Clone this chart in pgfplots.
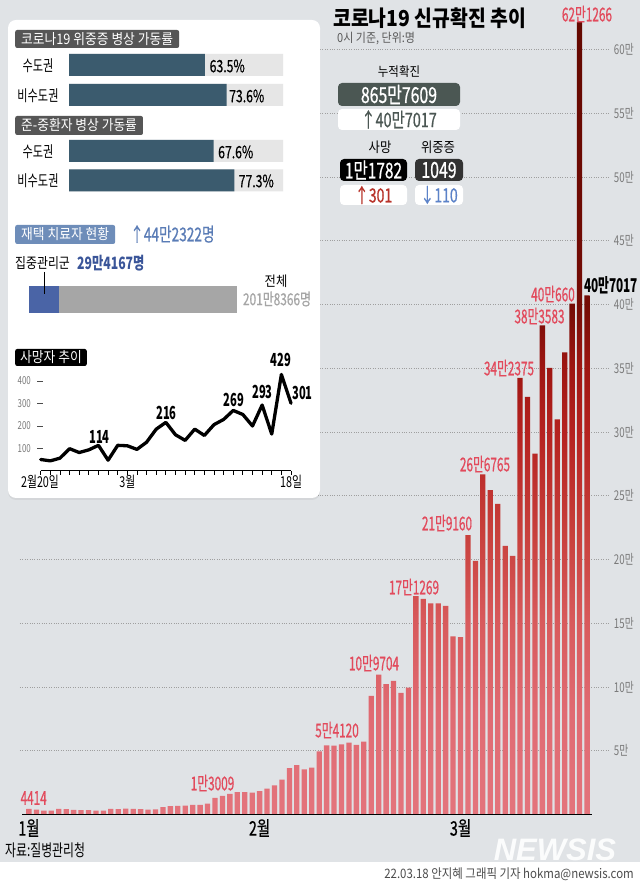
\documentclass[border=0pt]{standalone}
\usepackage{pgfplots}
\pgfplotsset{compat=1.18}
\usepackage{pgfplotstable}
\usepackage{fontspec}
\usetikzlibrary{shadows}
\setmainfont{Noto Sans CJK KR}[FakeStretch=0.88]
\newfontfamily\condA{Noto Sans CJK KR}[FakeStretch=0.62]
\newfontfamily\condAm{Noto Sans CJK KR}[FakeStretch=0.62, FakeBold=0.6]
\newfontfamily\condB{Noto Sans CJK KR}[FakeStretch=0.72]
\newfontfamily\condBm{Noto Sans CJK KR}[FakeStretch=0.72, FakeBold=0.6]
\newfontfamily\condC{Noto Sans CJK KR}[FakeStretch=0.82]
\newfontfamily\logofont{Liberation Sans}
\newcommand\fs[1]{\fontsize{#1bp}{#1bp}\selectfont}

\definecolor{bg}{HTML}{E0E3E6}
\definecolor{pinklab}{HTML}{E24A5C}
\definecolor{tealbar}{HTML}{3B5B6E}
\definecolor{barbg}{HTML}{E6E6E6}
\definecolor{hdr}{HTML}{565656}
\definecolor{bluebox}{HTML}{6E8DB9}
\definecolor{bluetxt}{HTML}{5A7CB6}
\definecolor{darkblue}{HTML}{3A5599}
\definecolor{graybar}{HTML}{A6A6A6}
\definecolor{bluebar}{HTML}{4A64A6}
\definecolor{box1}{HTML}{4B5753}
\definecolor{redtxt}{HTML}{B8332A}
\definecolor{bluearrow}{HTML}{5B82C8}
\definecolor{tickgray}{HTML}{7A7A7A}
\definecolor{b0}{HTML}{E3747C}
\definecolor{b1}{HTML}{E06A72}
\definecolor{b2}{HTML}{D85A5C}
\definecolor{b3}{HTML}{C8403C}
\definecolor{b4}{HTML}{B52220}
\definecolor{b5}{HTML}{9E1612}
\definecolor{b6}{HTML}{740C06}
\definecolor{b7}{HTML}{640800}

\pgfdeclareverticalshading{barshade}{100bp}{color(0bp)=(b0); color(25bp)=(b0); color(31.4bp)=(b1); color(37.1bp)=(b2); color(42.7bp)=(b3); color(49.1bp)=(b4); color(53.2bp)=(b5); color(57.2bp)=(b6); color(75bp)=(b7); color(100bp)=(b7)}

\pgfplotstableread{
i v
0 4414
1 3832
2 3129
3 3022
4 4443
5 4126
6 3714
7 3511
8 3376
9 3005
10 3094
11 4385
12 4167
13 4542
14 4422
15 4194
16 3857
17 4071
18 5805
19 6603
20 6769
21 7009
22 7630
23 7513
24 8571
25 13009
26 14518
27 16096
28 17542
29 17528
30 17079
31 18342
32 20270
33 22907
34 27443
35 36362
36 38691
37 35286
38 36719
39 49567
40 54120
41 53926
42 54941
43 56431
44 54619
45 57177
46 93000
47 109704
48 102211
49 104829
50 95362
51 99573
52 171269
53 169000
54 165600
55 165600
56 163566
57 139626
58 138993
59 219160
60 198803
61 266765
62 254327
63 243628
64 210716
65 202721
66 342375
67 327549
68 282987
69 383583
70 350190
71 309790
72 362338
73 400660
74 621266
75 407017
}\bars

\pgfplotstableread{
d v
0 51
1 45
2 57
3 99
4 82
5 94
6 114
7 48
8 114
9 112
10 96
11 128
12 186
13 216
14 161
15 136
16 186
17 158
18 206
19 229
20 269
21 251
22 200
23 293
24 164
25 429
26 301
}\deaths

\pgfplotsset{fullframe/.style={at={(0bp,0bp)}, anchor=south west, scale only axis,
  width=640bp, height=882bp, hide axis, clip=false}}

\begin{document}
\begin{tikzpicture}[x=1bp,y=1bp]
% background
\fill[bg] (0,0) rectangle (640,882);
\fill[white] (0,0) rectangle (640,20);

% main chart (axis spans the whole picture: idx = (px-29)/7.44, value from pixel row)
\begin{axis}[fullframe, xmin=-3.898, xmax=82.124, ymin=-52933, ymax=638720]
\pgfplotsinvokeforeach{50000,100000,150000,200000,250000,300000,350000,400000,450000,500000,550000,600000}{
  \draw[gray!75, line width=0.7bp, dash pattern=on 0.8bp off 1.6bp] (axis cs:-1.21,#1) -- (axis cs:78.09,#1);
}
\addplot[ybar, bar width=5.3bp, bar shift=0pt, draw=none, shade, shading=barshade] table[x=i,y=v] {\bars};
\draw[line width=1.5bp] (axis cs:-0.94,0) -- (axis cs:75.67,0);
\begin{scope}[every node/.style={font=\condB\fs{13.5}, text=tickgray, anchor=west, inner sep=0}]
\node at (axis cs:78.6,50000) {5만};
\node at (axis cs:78.6,100000) {10만};
\node at (axis cs:78.6,150000) {15만};
\node at (axis cs:78.6,200000) {20만};
\node at (axis cs:78.6,250000) {25만};
\node at (axis cs:78.6,300000) {30만};
\node at (axis cs:78.6,350000) {35만};
\node at (axis cs:78.6,400000) {40만};
\node at (axis cs:78.6,450000) {45만};
\node at (axis cs:78.6,500000) {50만};
\node at (axis cs:78.6,550000) {55만};
\node at (axis cs:78.6,600000) {60만};
\end{scope}
\end{axis}

% value labels on main chart
\begin{scope}[every node/.style={font=\condAm\fs{19}, text=pinklab, inner sep=0}]
\node at (33.7,882-798) {4414};
\node at (212.5,882-783) {1만3009};
\node at (337,882-730) {5만4120};
\node at (374,882-663) {10만9704};
\node at (414,882-587) {17만1269};
\node at (447,882-523) {21만9160};
\node at (485,882-464) {26만6765};
\node at (509,882-368) {34만2375};
\node at (539.5,882-316) {38만3583};
\node at (553,882-294) {40만660};
\node at (587,882-14) {62만1266};
\node[text=black, font=\condA\bfseries\fs{19}] at (611,882-285) {40만7017};
\end{scope}

% month labels
\begin{scope}[every node/.style={font=\condBm\fs{20}, inner sep=0}]
\node at (29,882-828) {1월};
\node at (259.6,882-828) {2월};
\node at (460.5,882-828) {3월};
\end{scope}

% title
\node[anchor=west, font=\bfseries\fs{22}, inner sep=0] at (333,882-18) {코로나19 신규확진 추이};
\node[anchor=west, font=\fs{12.5}, text=black!65, inner sep=0] at (337,882-39) {0시 기준, 단위:명};

% stat boxes
\node[font=\fs{13}, inner sep=0] at (399,882-72) {누적확진};
\node[fill=box1, text=white, rounded corners=4bp, minimum width=122bp, minimum height=23bp, inner sep=0, font=\condBm\fs{22}] at (399,882-94.5) {865만7609};
\node[fill=white, text=box1, rounded corners=4bp, minimum width=122bp, minimum height=21bp, inner sep=0, font=\condBm\fs{20}] at (399,882-119.5) {↑40만7017};
\node[font=\fs{14}, inner sep=0] at (380,882-147) {사망};
\node[font=\fs{14}, inner sep=0] at (438,882-147) {위중증};
\node[fill=black, text=white, rounded corners=4bp, minimum width=67bp, minimum height=22bp, inner sep=0, font=\condBm\fs{21.5}] at (373.5,882-170) {1만1782};
\node[fill=white, text=redtxt, rounded corners=4bp, minimum width=67bp, minimum height=20bp, inner sep=0, font=\condBm\fs{19.5}] at (373.5,882-195) {↑301};
\node[fill=black!80, text=white, rounded corners=4bp, minimum width=48bp, minimum height=22bp, inner sep=0, font=\condBm\fs{22}] at (439,882-170) {1049};
\node[fill=white, text=bluearrow, rounded corners=4bp, minimum width=48bp, minimum height=20bp, inner sep=0, font=\condBm\fs{19.5}] at (439,882-195) {↓110};

% panel
\path[fill=white, rounded corners=8bp, drop shadow={shadow xshift=0bp, shadow yshift=-2bp, opacity=0.12}] (8,882-498) rectangle (320,882-20);

% headers
\node[fill=hdr, text=white, rounded corners=2bp, inner xsep=6bp, inner ysep=0bp, minimum height=18bp, anchor=west, font=\fs{14.5}] at (15,882-39) {코로나19 위중증 병상 가동률};
\node[fill=hdr, text=white, rounded corners=2bp, inner xsep=6bp, inner ysep=0bp, minimum height=19bp, anchor=west, font=\fs{14.5}] at (15,882-125.5) {준-중환자 병상 가동률};

% bed occupancy bars (x: px = 69 + 2.14*pct ; y = -pixel row)
\begin{axis}[fullframe, xmin=-32.243, xmax=266.822, ymin=-882, ymax=0,
  xbar, bar width=22bp, bar shift=0pt]
\addplot[fill=barbg, draw=none] coordinates {(100,-65) (100,-95) (100,-151) (100,-180.5)};
\addplot[fill=tealbar, draw=none] coordinates {(63.5,-65) (73.6,-95) (67.6,-151) (77.3,-180.5)};
\end{axis}
\begin{scope}[every node/.style={font=\condB\fs{15.5}, inner sep=0}]
\node at (38,882-66) {수도권};
\node at (38,882-96) {비수도권};
\node at (38,882-152) {수도권};
\node at (38,882-181) {비수도권};
\end{scope}
\begin{scope}[every node/.style={font=\condBm\fs{17}, inner sep=0, anchor=west}]
\node at (209.5,882-66) {63.5\%};
\node at (229,882-96) {73.6\%};
\node at (218,882-152) {67.6\%};
\node at (238.5,882-181) {77.3\%};
\end{scope}

% home treatment
\node[fill=bluebox, text=white, rounded corners=2bp, inner xsep=6bp, inner ysep=0bp, minimum height=19bp, anchor=west, font=\fs{14.5}] at (15,882-234.5) {재택 치료자 현황};
\node[anchor=west, text=bluetxt, font=\condBm\fs{19}, inner sep=0] at (130,882-234) {↑44만2322명};
\node[anchor=west, font=\condC\fs{14.5}, inner sep=0] at (15,882-263) {집중관리군};
\node[anchor=west, text=darkblue, font=\condB\bfseries\fs{17}, inner sep=0] at (77,882-263) {29만4167명};
% (x: px = 29 + 208*v/2018366 ; y = -pixel row)
\begin{axis}[fullframe, xmin=-281417, xmax=5929200, ymin=-882, ymax=0,
  xbar, bar width=27bp, bar shift=0pt]
\addplot[fill=graybar, draw=none] coordinates {(2018366,-299.8)};
\addplot[fill=bluebar, draw=none] coordinates {(294167,-299.8)};
\end{axis}
\draw[line width=1bp] (44,882-272) -- (44,882-294);
\node[font=\fs{14}, inner sep=0] at (276,882-281) {전체};
\node[text=graybar, font=\condBm\fs{16.5}, inner sep=0] at (277,882-299) {201만8366명};

% deaths (x: px = 40.7 + 9.627*d ; y: px row = 471 - 0.225*v)
\node[fill=black, text=white, rounded corners=2bp, inner xsep=5bp, inner ysep=0bp, minimum height=17bp, anchor=west, font=\fs{14.5}] at (15,882-357.5) {사망자 추이};
\begin{axis}[fullframe, xmin=-4.2277, xmax=62.252, ymin=-1826.67, ymax=2093.33]
\draw[line width=1bp] (axis cs:0,0) -- (axis cs:26,0);
\pgfplotsinvokeforeach{0,...,26}{\draw[line width=0.8bp] (axis cs:#1,0) -- ++(0bp,-4bp);}
\pgfplotsinvokeforeach{100,200,300,400}{
  \draw[black!70, line width=0.8bp] (axis cs:0,#1) ++(-3.5bp,0bp) -- ++(6bp,0bp);
  \node[anchor=east, font=\condB\fs{11}, text=tickgray, inner sep=0] at (axis cs:-1.0,#1) {#1};
}
\addplot[black, line width=3.3bp, line join=round, line cap=round, mark=none] table[x=d,y=v] {\deaths};
\end{axis}
\begin{scope}[every node/.style={font=\condB\fs{15}, inner sep=0}]
\node at (40,882-482) {2월20일};
\node at (127.4,882-482) {3월};
\node at (291,882-482) {18일};
\end{scope}
\begin{scope}[every node/.style={font=\condA\bfseries\fs{18}, inner sep=0}]
\node at (99.5,882-437) {114};
\node at (166.5,882-413) {216};
\node at (234,882-400) {269};
\node at (262.5,882-392) {293};
\node at (281,882-360) {429};
\node at (302.5,882-393) {301};
\end{scope}

% footer
\node[anchor=west, font=\condB\fs{16.5}, inner sep=0] at (5,882-850) {자료:질병관리청};
\node[anchor=center, text=white, opacity=0.9, font=\logofont\bfseries\itshape\fs{31}, inner sep=0] at (555,882-850) {NEWSIS};
\node[anchor=east, text=black!70, font=\fs{13}, inner sep=0] at (634,882-874) {22.03.18 안지혜 그래픽 기자 hokma@newsis.com};

\pgfresetboundingbox
\path[use as bounding box] (0,0) rectangle (640,882);
\end{tikzpicture}
\end{document}
